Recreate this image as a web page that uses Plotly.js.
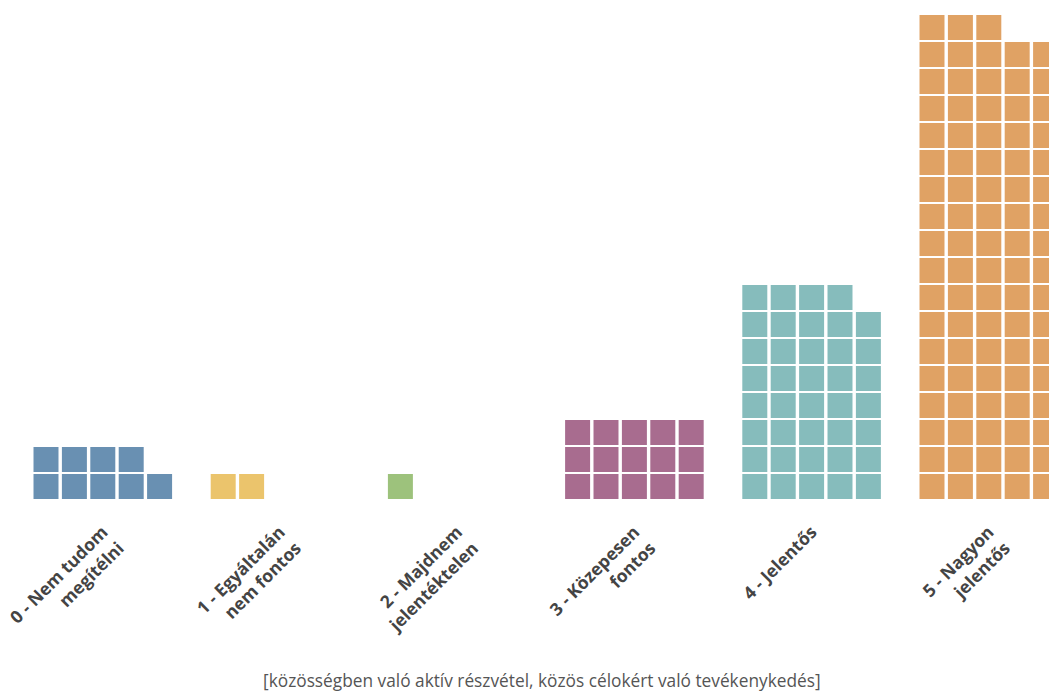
<!DOCTYPE html>
<html>
<head>
<meta charset="utf-8">
<script src="https://cdn.plot.ly/plotly-3.0.1.min.js"></script>
<style>html,body{margin:0;padding:0;background:#fff;}#chart{width:1049px;height:691px;}</style>
</head>
<body>
<div id="chart"></div>
<script>
// Data: number of squares per answer category
const categories = ["0 - Nem tudom<br>megítélni", "1 - Egyáltalán<br>nem fontos", "2 - Majdnem<br>jelentéktelen", "3 - Közepesen<br>fontos", "4 - Jelentős", "5 - Nagyon<br>jelentős"];
const counts = [9, 2, 1, 15, 39, 88];
const colors = ["#6990b2", "#ebc46c", "#9dc27c", "#a86c8f", "#86bcbc", "#e0a264"];
const axisTitle = "[közösségben való aktív részvétel, közös célokért való tevékenykedés]";

const perRow = 5;        // squares per row in each waffle column
const groupStep = 6.24;  // spacing between groups in square units

const traces = categories.map((cat, g) => {
  const xs = [], ys = [];
  for (let i = 0; i < counts[g]; i++) {
    xs.push(g * groupStep + (i % perRow));
    ys.push(Math.floor(i / perRow));
  }
  return {
    type: "scatter", mode: "markers", x: xs, y: ys, name: cat.replace("<br>", " "),
    marker: {symbol: "square", size: 25, color: colors[g], line: {width: 0}},
    hoverinfo: "skip", cliponaxis: true
  };
});

const layout = {
  width: 1049, height: 691,
  margin: {l: 0, r: 0, t: 14, b: 190.5},
  paper_bgcolor: "#fff", plot_bgcolor: "#fff",
  showlegend: false,
  xaxis: {
    range: [-1.62, 35.32], showgrid: false, zeroline: false, showline: false,
    tickmode: "array",
    tickvals: categories.map((c, g) => g * groupStep + 2),
    ticktext: categories,
    tickangle: -45, ticks: "outside", ticklen: 14, tickcolor: "rgba(0,0,0,0)",
    tickfont: {family: "'Open Sans', sans-serif", size: 17.5, color: "#444", weight: "bold"}
  },
  yaxis: {range: [-0.5, 17.5], visible: false, showgrid: false, zeroline: false},
  annotations: [{
    text: axisTitle, xref: "paper", yref: "paper", x: 0.517, y: -0.372,
    xanchor: "center", yanchor: "middle", showarrow: false,
    font: {family: "'Open Sans', sans-serif", size: 17.3, color: "#555"}
  }]
};

Plotly.newPlot("chart", traces, layout, {displayModeBar: false, staticPlot: true});
</script>
</body>
</html>
